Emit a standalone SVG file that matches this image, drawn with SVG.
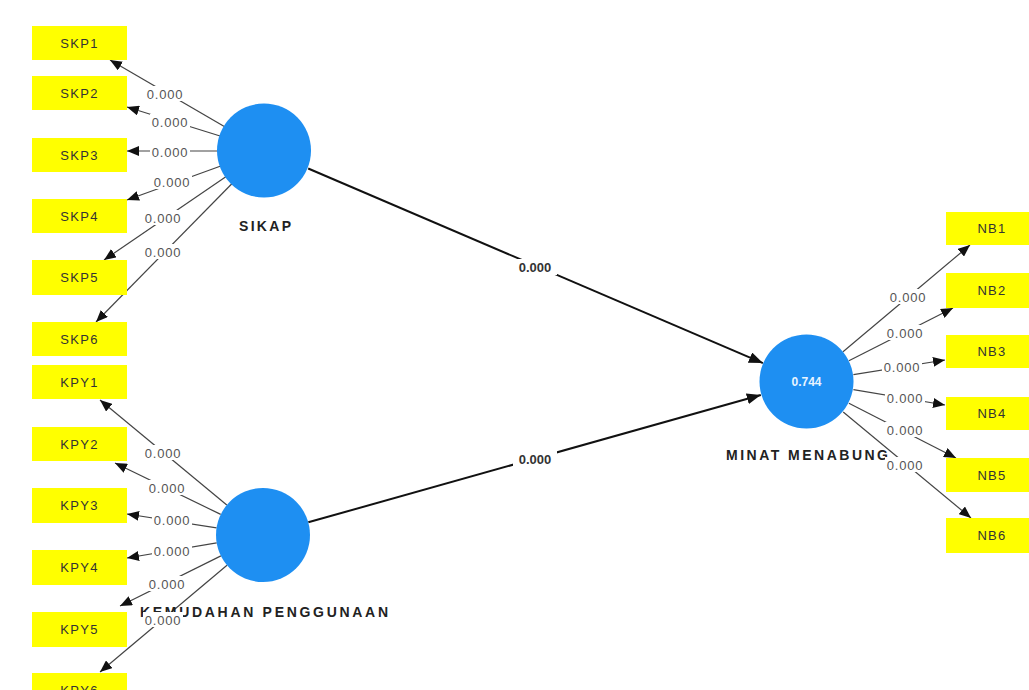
<svg xmlns="http://www.w3.org/2000/svg" width="1029" height="690" viewBox="0 0 1029 690">
<style>
.box{fill:#ffff00}
.bt{font-family:"Liberation Sans",Arial,sans-serif;font-size:13px;fill:#333;text-anchor:middle;letter-spacing:1.3px}
.lv{fill:#1e8ff2}
.nl{font-family:"Liberation Sans",Arial,sans-serif;font-size:14px;font-weight:bold;fill:#222;text-anchor:middle}
.ld{stroke:#444;stroke-width:1.2;fill:none}
.st{stroke:#111;stroke-width:2;fill:none}
.lb{font-family:"Liberation Sans",Arial,sans-serif;font-size:13px;fill:#555;text-anchor:middle;letter-spacing:0.8px}
.sl{font-family:"Liberation Sans",Arial,sans-serif;font-size:13px;font-weight:bold;fill:#333;text-anchor:middle}
.bg{fill:#fff}
</style>
<defs>
<marker id="a" markerUnits="userSpaceOnUse" markerWidth="12" markerHeight="10" refX="12" refY="5" orient="auto"><path d="M0,0 L12,5 L0,10 z" fill="#111"/></marker>
<marker id="b" markerUnits="userSpaceOnUse" markerWidth="14" markerHeight="11" refX="14" refY="5.5" orient="auto"><path d="M0,0 L14,5.5 L0,11 z" fill="#111"/></marker>
</defs>
<rect width="1029" height="690" fill="#fff"/>

<g id="connectors">
<line class="ld" x1="224.3" y1="126.4" x2="110" y2="60" marker-end="url(#a)"/>
<line class="ld" x1="220.1" y1="136" x2="127" y2="107" marker-end="url(#a)"/>
<line class="ld" x1="218" y1="151" x2="127" y2="151" marker-end="url(#a)"/>
<line class="ld" x1="220.8" y1="166" x2="127" y2="200" marker-end="url(#a)"/>
<line class="ld" x1="226.2" y1="176.5" x2="104" y2="260" marker-end="url(#a)"/>
<line class="ld" x1="232.1" y1="183.5" x2="96" y2="322" marker-end="url(#a)"/>

<line class="ld" x1="226.8" y1="505" x2="100" y2="400" marker-end="url(#a)"/>
<line class="ld" x1="220.7" y1="514.4" x2="115" y2="463" marker-end="url(#a)"/>
<line class="ld" x1="216.6" y1="527.8" x2="127" y2="514" marker-end="url(#a)"/>
<line class="ld" x1="216.7" y1="542.8" x2="127" y2="558" marker-end="url(#a)"/>
<line class="ld" x1="220.9" y1="555.9" x2="120" y2="606" marker-end="url(#a)"/>
<line class="ld" x1="227" y1="565.2" x2="100" y2="672" marker-end="url(#a)"/>

<line class="ld" x1="843" y1="351.8" x2="970" y2="245" marker-end="url(#a)"/>
<line class="ld" x1="848.9" y1="360.8" x2="953" y2="308" marker-end="url(#a)"/>
<line class="ld" x1="853.4" y1="374.6" x2="945" y2="360" marker-end="url(#a)"/>
<line class="ld" x1="853.4" y1="389.7" x2="945" y2="405" marker-end="url(#a)"/>
<line class="ld" x1="848.9" y1="403.3" x2="956" y2="458" marker-end="url(#a)"/>
<line class="ld" x1="843.2" y1="412" x2="971" y2="518" marker-end="url(#a)"/>

<line class="st" x1="308.2" y1="168.5" x2="762.9" y2="363.1" marker-end="url(#b)"/>
<line class="st" x1="308.3" y1="522.3" x2="760.8" y2="395" marker-end="url(#b)"/>
</g>

<g id="SKP1"><rect class="box" x="32" y="26" width="95" height="34"/><text class="bt" x="79.5" y="47.5">SKP1</text></g>
<g id="SKP2"><rect class="box" x="32" y="76" width="95" height="34"/><text class="bt" x="79.5" y="97.5">SKP2</text></g>
<g id="SKP3"><rect class="box" x="32" y="138" width="95" height="34"/><text class="bt" x="79.5" y="159.5">SKP3</text></g>
<g id="SKP4"><rect class="box" x="32" y="199" width="95" height="34"/><text class="bt" x="79.5" y="220.5">SKP4</text></g>
<g id="SKP5"><rect class="box" x="32" y="260" width="95" height="35"/><text class="bt" x="79.5" y="282">SKP5</text></g>
<g id="SKP6"><rect class="box" x="32" y="322" width="95" height="34"/><text class="bt" x="79.5" y="343.5">SKP6</text></g>

<g id="KPY1"><rect class="box" x="32" y="365" width="95" height="34"/><text class="bt" x="79.5" y="386.5">KPY1</text></g>
<g id="KPY2"><rect class="box" x="32" y="427" width="95" height="34"/><text class="bt" x="79.5" y="448.5">KPY2</text></g>
<g id="KPY3"><rect class="box" x="32" y="488" width="95" height="35"/><text class="bt" x="79.5" y="510">KPY3</text></g>
<g id="KPY4"><rect class="box" x="32" y="550" width="95" height="35"/><text class="bt" x="79.5" y="572">KPY4</text></g>
<g id="KPY5"><rect class="box" x="32" y="612" width="95" height="35"/><text class="bt" x="79.5" y="634">KPY5</text></g>
<g id="KPY6"><rect class="box" x="32" y="673" width="95" height="34"/><text class="bt" x="79.5" y="694.5">KPY6</text></g>

<g id="NB1"><rect class="box" x="946" y="212" width="96" height="33"/><text class="bt" x="992" y="233">NB1</text></g>
<g id="NB2"><rect class="box" x="946" y="273" width="96" height="35"/><text class="bt" x="992" y="295">NB2</text></g>
<g id="NB3"><rect class="box" x="946" y="335" width="96" height="33"/><text class="bt" x="992" y="356">NB3</text></g>
<g id="NB4"><rect class="box" x="946" y="397" width="96" height="33"/><text class="bt" x="992" y="418">NB4</text></g>
<g id="NB5"><rect class="box" x="946" y="458" width="96" height="34"/><text class="bt" x="992" y="479.5">NB5</text></g>
<g id="NB6"><rect class="box" x="946" y="518" width="96" height="35"/><text class="bt" x="992" y="540">NB6</text></g>

<g id="SIKAP"><circle class="lv" cx="264" cy="150.5" r="47"/><text class="nl" x="265" y="231" textLength="52" lengthAdjust="spacing">SIKAP</text></g>
<g id="KEMUDAHAN_PENGGUNAAN"><circle class="lv" cx="263" cy="535" r="47"/><text class="nl" x="264" y="617" textLength="248" lengthAdjust="spacing">KEMUDAHAN PENGGUNAAN</text></g>
<g id="MINAT_MENABUNG"><circle class="lv" cx="806.5" cy="381.5" r="47"/><text x="806.5" y="386" font-family="Liberation Sans, Arial, sans-serif" font-size="12" font-weight="bold" fill="#e8f4ff" text-anchor="middle">0.744</text><text class="nl" x="807" y="460" textLength="162" lengthAdjust="spacing">MINAT MENABUNG</text></g>

<g id="labels">
<rect class="bg" x="145" y="86" width="40" height="15"/><text class="lb" x="165" y="98.5">0.000</text>
<rect class="bg" x="150" y="114" width="40" height="15"/><text class="lb" x="170" y="126.5">0.000</text>
<rect class="bg" x="150" y="144" width="40" height="15"/><text class="lb" x="170" y="156.5">0.000</text>
<rect class="bg" x="152" y="174" width="40" height="15"/><text class="lb" x="172" y="186.5">0.000</text>
<rect class="bg" x="143" y="210" width="40" height="15"/><text class="lb" x="163" y="222.5">0.000</text>
<rect class="bg" x="143" y="244" width="40" height="15"/><text class="lb" x="163" y="256.5">0.000</text>

<rect class="bg" x="143" y="445" width="40" height="15"/><text class="lb" x="163" y="457.5">0.000</text>
<rect class="bg" x="147" y="480" width="40" height="15"/><text class="lb" x="167" y="492.5">0.000</text>
<rect class="bg" x="152" y="512" width="40" height="15"/><text class="lb" x="172" y="524.5">0.000</text>
<rect class="bg" x="152" y="543" width="40" height="15"/><text class="lb" x="172" y="555.5">0.000</text>
<rect class="bg" x="147" y="576" width="40" height="15"/><text class="lb" x="167" y="588.5">0.000</text>
<rect class="bg" x="143" y="612" width="40" height="15"/><text class="lb" x="163" y="624.5">0.000</text>

<rect class="bg" x="888" y="289" width="40" height="15"/><text class="lb" x="908" y="301.5">0.000</text>
<rect class="bg" x="885" y="325" width="40" height="15"/><text class="lb" x="905" y="337.5">0.000</text>
<rect class="bg" x="882" y="359" width="40" height="15"/><text class="lb" x="902" y="371.5">0.000</text>
<rect class="bg" x="885" y="390" width="40" height="15"/><text class="lb" x="905" y="402.5">0.000</text>
<rect class="bg" x="885" y="422" width="40" height="15"/><text class="lb" x="905" y="434.5">0.000</text>
<rect class="bg" x="885" y="457" width="40" height="15"/><text class="lb" x="905" y="469.5">0.000</text>

<rect class="bg" x="513" y="259" width="44" height="16"/><text class="sl" x="535" y="272">0.000</text>
<rect class="bg" x="513" y="451" width="44" height="16"/><text class="sl" x="535" y="464">0.000</text>
</g>
</svg>
